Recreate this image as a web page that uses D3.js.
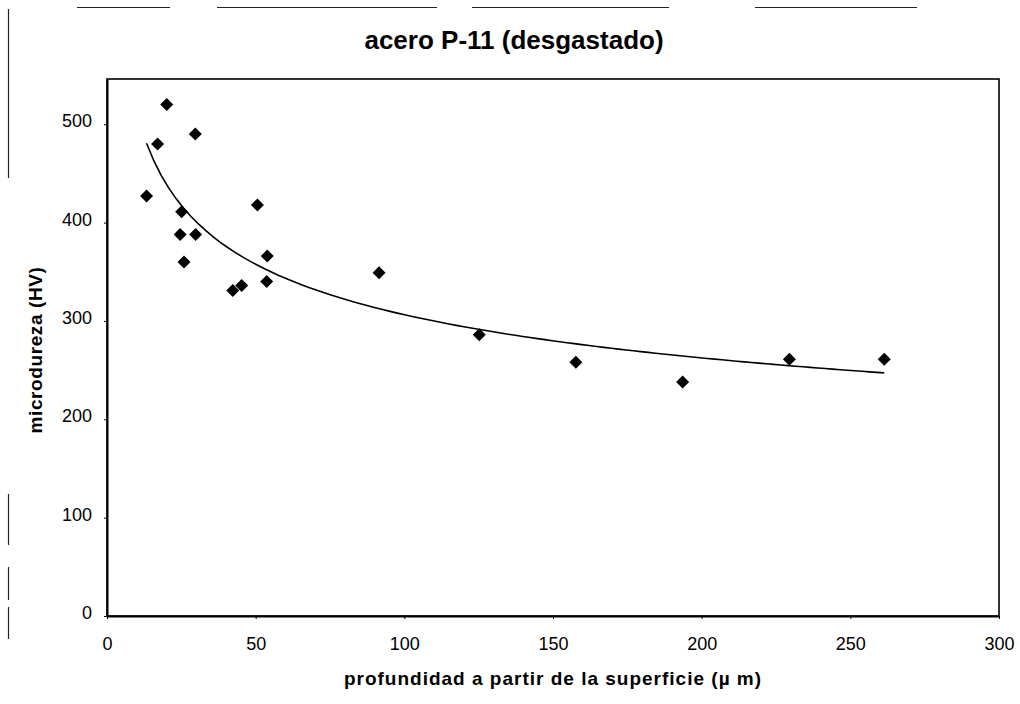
<!DOCTYPE html>
<html>
<head>
<meta charset="utf-8">
<script src="https://cdn.jsdelivr.net/npm/d3@7"></script>
<style>
  body { margin: 0; background: #fff; }
  text { font-family: "Liberation Sans", Arial, sans-serif; fill: #000; }
</style>
</head>
<body>
<svg id="chart" width="1020" height="704"></svg>
<script>
// depth from surface (µm) and microhardness (HV)
const depth = [20.1, 29.7, 17.0, 13.3, 25.1, 24.6, 29.8, 25.9, 50.6, 53.9,
               53.7, 42.3, 45.3, 91.5, 125.2, 157.7, 193.6, 229.5, 261.4];
const hardness = [520, 490, 480, 427, 411, 388, 388, 360, 418, 366,
                  340, 331, 336, 349, 286, 258, 238, 261, 261];
const xTicks = [0, 50, 100, 150, 200, 250, 300];
const yTicks = [0, 100, 200, 300, 400, 500];

const title = "acero P-11 (desgastado)";
const xLabel = "profundidad a partir de la superficie (\u00b5 m)";
const yLabel = "microdureza (HV)";

let points = depth.map((d, i) => ({x: d, y: hardness[i]}));

// plot area
let plotLeft = 107, plotRight = 999, plotTop = 79, plotBottom = 616;

let svg = d3.select("#chart");

let x = d3.scaleLinear().domain([0, 300]).range([plotLeft, plotRight]);
let y = d3.scaleLinear().domain([0, 546]).range([plotBottom, plotTop]);

// scan border remnants
let scan = svg.append("g").attr("stroke", "#222").attr("stroke-width", 1.2);
[[77, 170], [217, 437], [472, 669], [755, 917]].forEach(s => {
    scan.append("line").attr("x1", s[0]).attr("x2", s[1]).attr("y1", 7.5).attr("y2", 7.5);
});
[[9, 178], [494, 545], [567, 600], [607, 639]].forEach(s => {
    scan.append("line").attr("x1", 8.5).attr("x2", 8.5).attr("y1", s[0]).attr("y2", s[1]);
});

// frame
svg.append("rect")
    .attr("x", plotLeft).attr("y", plotTop)
    .attr("width", plotRight - plotLeft).attr("height", plotBottom - plotTop)
    .attr("fill", "none").attr("stroke", "#000").attr("stroke-width", 1.6);

// X axis
let xAxis = svg.append("g")
    .attr("transform", "translate(0," + plotBottom + ")")
    .call(d3.axisBottom(x).tickValues(xTicks).tickSize(3).tickSizeOuter(0));
xAxis.select(".domain").attr("stroke-width", 2);
xAxis.selectAll("text").attr("font-size", "18px").attr("dy", "1.55em");

// Y axis
let yAxis = svg.append("g")
    .attr("transform", "translate(" + plotLeft + ",0)")
    .call(d3.axisLeft(y).tickValues(yTicks).tickSize(3).tickSizeOuter(0));
yAxis.select(".domain").attr("stroke-width", 2);
yAxis.selectAll("text").attr("font-size", "18px").attr("x", -15).attr("dy", "0.15em");
svg.selectAll(".tick text").attr("font-family", "Liberation Sans, Arial, sans-serif");

// power trendline (least squares on log-log)
let lx = points.map(p => Math.log(p.x)), ly = points.map(p => Math.log(p.y));
let mx = d3.mean(lx), my = d3.mean(ly);
let b = d3.sum(lx, (v, i) => (v - mx) * (ly[i] - my)) / d3.sum(lx, v => (v - mx) * (v - mx));
let a = Math.exp(my - b * mx);
let xMin = d3.min(depth), xMax = d3.max(depth);
let trend = d3.range(0, 101).map(i => {
    let xv = xMin + (xMax - xMin) * i / 100;
    return [xv, a * Math.pow(xv, b)];
});
svg.append("path")
    .datum(trend)
    .attr("fill", "none")
    .attr("stroke", "#000")
    .attr("stroke-width", 1.6)
    .attr("d", d3.line().x(d => x(d[0])).y(d => y(d[1])));

// diamonds
let r = 6.5;
svg.selectAll("path.pt")
    .data(points)
    .join("path")
    .attr("class", "pt")
    .attr("d", "M0," + (-r) + "L" + r + ",0L0," + r + "L" + (-r) + ",0Z")
    .attr("transform", d => "translate(" + x(d.x) + "," + y(d.y) + ")")
    .attr("fill", "#000");

// titles
svg.append("text")
    .attr("x", 514).attr("y", 49)
    .attr("text-anchor", "middle")
    .attr("font-size", "26px").attr("font-weight", "bold")
    .text(title);

svg.append("text")
    .attr("x", (plotLeft + plotRight) / 2).attr("y", 685)
    .attr("text-anchor", "middle")
    .attr("font-size", "19px").attr("font-weight", "bold")
    .attr("letter-spacing", "1px")
    .text(xLabel);

svg.append("text")
    .attr("transform", "translate(42,350) rotate(-90)")
    .attr("text-anchor", "middle")
    .attr("font-size", "19px").attr("font-weight", "bold")
    .attr("letter-spacing", "0.6px")
    .text(yLabel);
</script>
</body>
</html>
